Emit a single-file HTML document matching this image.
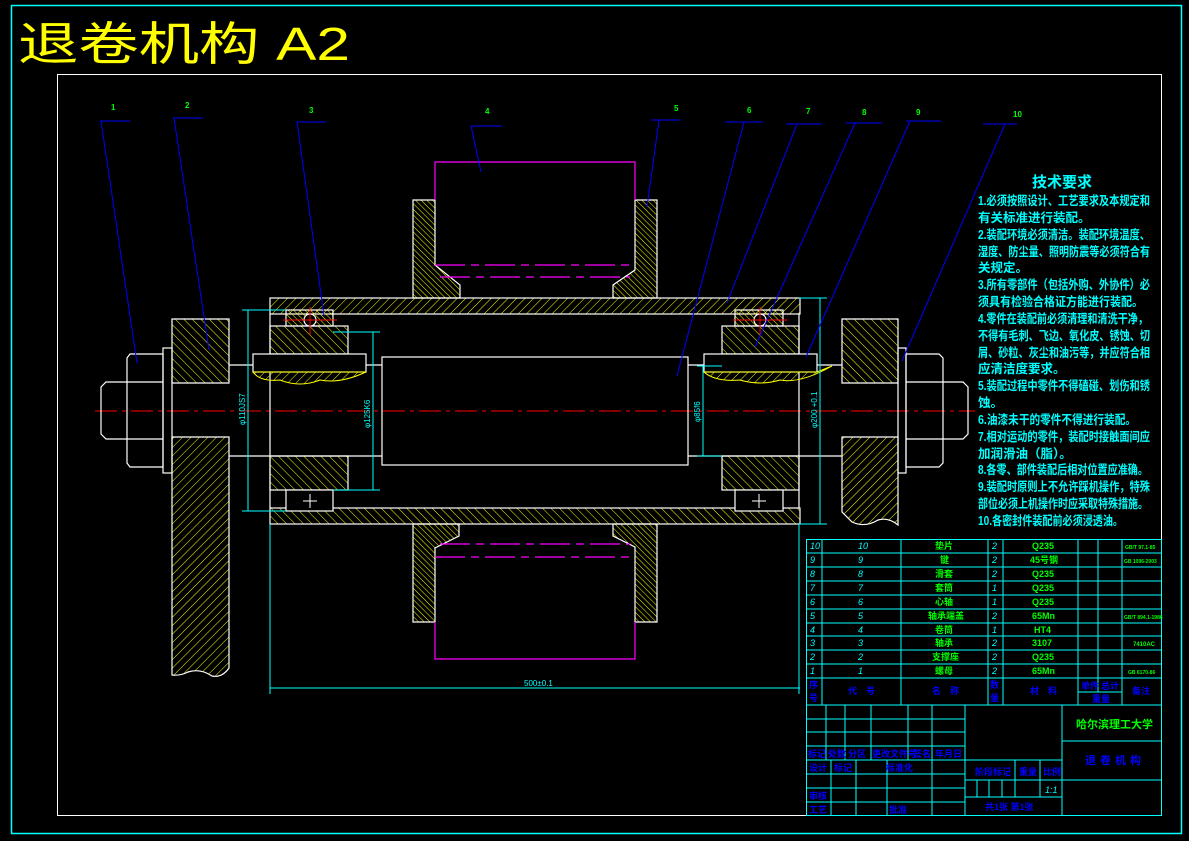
<!DOCTYPE html>
<html><head><meta charset="utf-8"><style>
html,body{margin:0;padding:0;background:#000;}
svg{display:block;}
text{font-family:"Liberation Sans","Noto Sans CJK SC",sans-serif;}
.tr{fill:#00ffff;font-size:12.5px;font-family:"Noto Sans CJK SC","WenQuanYi Zen Hei",sans-serif;font-weight:bold;}
.g{fill:#00ff00;font-size:9px;font-weight:bold;font-family:"Liberation Sans","Noto Sans CJK SC",sans-serif;}
.c{fill:#00ffff;font-size:9px;font-style:italic;}
.b{fill:#0000ff;font-size:9px;font-weight:bold;font-family:"Liberation Sans","Noto Sans CJK SC",sans-serif;}
</style></head><body>
<svg width="1189" height="841" viewBox="0 0 1189 841" xmlns="http://www.w3.org/2000/svg">
<defs>
<pattern id="h1" width="6" height="6" patternUnits="userSpaceOnUse" patternTransform="rotate(45)">
<line x1="0" y1="0" x2="0" y2="6" stroke="#ffff00" stroke-width="1"/></pattern>
<pattern id="h2" width="6" height="6" patternUnits="userSpaceOnUse" patternTransform="rotate(-45)">
<line x1="0" y1="0" x2="0" y2="6" stroke="#ffff00" stroke-width="1"/></pattern>
<pattern id="h3" width="4" height="4" patternUnits="userSpaceOnUse" patternTransform="rotate(-45)">
<line x1="0" y1="0" x2="0" y2="4" stroke="#ffff00" stroke-width="1"/></pattern>
</defs>
<rect width="1189" height="841" fill="#000"/>
<rect x="11.5" y="5.5" width="1170" height="828" fill="none" stroke="#00ffff" stroke-width="1.5"/>
<rect x="57.5" y="74.5" width="1104" height="741" fill="none" stroke="#ffffff" stroke-width="1"/>
<text x="18" y="60" fill="#ffff00" font-size="46" textLength="332" lengthAdjust="spacingAndGlyphs" style="font-family:'Liberation Sans','Noto Sans CJK SC',sans-serif">退卷机构 A2</text>

<line x1="95" y1="411" x2="975" y2="411" stroke="#ff0000" stroke-dasharray="22,5,4,5"/>

<g stroke="#ffffff" stroke-width="1.2">
<path d="M172,319 H229 V383 H172 Z" fill="url(#h2)"/>
<path d="M172,437 H229 V668 Q222,678 212,676 Q200,668 188,672 Q180,676 172,675 Z" fill="url(#h1)"/>
<rect x="163" y="348" width="9" height="125" fill="none"/>
<path d="M130,354 H163 V467 H130 L127,463 V358 Z" fill="none"/>
<line x1="127" y1="382" x2="163" y2="382"/><line x1="127" y1="439" x2="163" y2="439"/>
<path d="M127,382 H106 L101,387 V434 L106,439 H127" fill="none"/>
<path d="M842,319 H898 V383 H842 Z" fill="url(#h2)"/>
<path d="M842,437 H898 V525 Q888,517 878,520 Q865,528 852,522 L842,512 Z" fill="url(#h1)"/>
<rect x="898" y="348" width="8" height="125" fill="none"/>
<path d="M906,354 H939 L943,358 V463 L939,467 H906 Z" fill="none"/>
<line x1="906" y1="382" x2="943" y2="382"/><line x1="906" y1="439" x2="943" y2="439"/>
<path d="M943,382 H963 L968,387 V434 L963,439 H943" fill="none"/>
<line x1="229" y1="365" x2="382" y2="365"/><line x1="229" y1="456" x2="382" y2="456"/>
<line x1="688" y1="365" x2="842" y2="365"/><line x1="688" y1="456" x2="842" y2="456"/>
<rect x="382" y="357" width="306" height="108" fill="none"/>
<rect x="270" y="298" width="530" height="16" fill="url(#h1)"/>
<rect x="270" y="508" width="530" height="16" fill="url(#h2)"/>
<rect x="270" y="326" width="78" height="28" fill="url(#h2)"/>
<rect x="270" y="456" width="78" height="34" fill="url(#h2)"/>
<rect x="286" y="310" width="47" height="16" fill="url(#h3)"/>
<rect x="286" y="490" width="47" height="21" fill="#000"/>
<line x1="270" y1="314" x2="270" y2="508"/>
<rect x="722" y="326" width="77" height="28" fill="url(#h2)"/>
<rect x="722" y="456" width="77" height="34" fill="url(#h2)"/>
<rect x="735" y="310" width="48" height="16" fill="url(#h3)"/>
<rect x="735" y="490" width="48" height="21" fill="#000"/>
<line x1="799" y1="314" x2="799" y2="508"/>
<circle cx="310" cy="320" r="6" fill="#000"/>
<circle cx="760" cy="320" r="6" fill="#000"/>
<rect x="253" y="354" width="113" height="18" fill="#000"/>
<rect x="704" y="354" width="113" height="18" fill="#000"/>
<path d="M413,200 H435 V265 L460,285 V298 H413 Z" fill="url(#h3)"/>
<path d="M635,200 H657 V298 H613 V285 L635,270 Z" fill="url(#h3)"/>
<path d="M413,524 H459 V536 L435,548 V622 H413 Z" fill="url(#h3)"/>
<path d="M613,524 H657 V622 H635 V547 L613,536 Z" fill="url(#h3)"/>
</g>
<path d="M253,372 Q260,382 280,380 Q300,388 320,380 Q340,384 366,372 Z" fill="url(#h1)" stroke="#ffff00"/>
<path d="M704,372 Q715,382 740,380 Q760,386 780,380 Q800,384 832,366 L817,372 Z" fill="url(#h1)" stroke="#ffff00"/>
<g stroke="#ffffff"><line x1="310" y1="494" x2="310" y2="508"/><line x1="303" y1="501" x2="317" y2="501"/>
<line x1="759" y1="494" x2="759" y2="508"/><line x1="752" y1="501" x2="766" y2="501"/></g>
<g stroke="#ff0000"><line x1="283" y1="320" x2="337" y2="320"/><line x1="310" y1="307" x2="310" y2="335"/>
<line x1="733" y1="320" x2="787" y2="320"/><line x1="760" y1="307" x2="760" y2="335"/></g>
<g stroke="#ff00ff" fill="none" stroke-width="1.2">
<path d="M435,200 V162 H635 V200"/>
<line x1="435" y1="265" x2="635" y2="265" stroke-dasharray="30,6,8,6"/>
<line x1="440" y1="277" x2="630" y2="277" stroke-dasharray="30,6,8,6"/>
<path d="M435,622 V659 H635 V622"/>
<line x1="440" y1="544" x2="630" y2="544" stroke-dasharray="30,6,8,6"/>
<line x1="435" y1="557" x2="635" y2="557" stroke-dasharray="30,6,8,6"/>
</g>
<g stroke="#00ffff" fill="none">
<line x1="242" y1="310" x2="286" y2="310"/><line x1="242" y1="511" x2="286" y2="511"/>
<line x1="248" y1="310" x2="248" y2="511"/>
<line x1="333" y1="332" x2="380" y2="332"/><line x1="333" y1="490" x2="380" y2="490"/>
<line x1="373" y1="332" x2="373" y2="490"/>
<line x1="697" y1="366" x2="722" y2="366"/><line x1="697" y1="456" x2="722" y2="456"/>
<line x1="703" y1="366" x2="703" y2="456"/>
<line x1="799" y1="298" x2="827" y2="298"/><line x1="799" y1="524" x2="827" y2="524"/>
<line x1="820" y1="298" x2="820" y2="524"/>
<line x1="270" y1="524" x2="270" y2="694"/><line x1="799" y1="524" x2="799" y2="694"/>
<line x1="270" y1="688" x2="800" y2="688"/>
</g>
<g fill="#00ffff" font-size="8">
<text transform="translate(245,425) rotate(-90)">φ110JS7</text>
<text transform="translate(370,428) rotate(-90)">φ125K6</text>
<text transform="translate(700,422) rotate(-90)">φ85f6</text>
<text transform="translate(817,428) rotate(-90)">φ200 +0.1</text>
<text x="524" y="686">500±0.1</text>
</g>
<g stroke="#0000ff" fill="none">
<path d="M100,121 H130 M101,121 L137,363"/>
<path d="M173,118 H203 M174,118 L209,350"/>
<path d="M297,122 H326 M297,122 L324,316"/>
<path d="M471,126 H502 M471,126 L481,172"/>
<path d="M651,120 H680 M659,120 L647,207"/>
<path d="M725,122 H763 M744,122 L677,376"/>
<path d="M786,124 H822 M797,124 L727,303"/>
<path d="M846,123 H882 M855,123 L755,347"/>
<path d="M906,121 H941 M910,121 L806,357"/>
<path d="M983,124 H1017 M1005,124 L902,361"/>
</g>
<g fill="#00ff00" font-size="8" font-weight="bold">
<text x="111" y="110">1</text><text x="185" y="108">2</text><text x="309" y="113">3</text>
<text x="485" y="114">4</text><text x="674" y="111">5</text><text x="747" y="113">6</text>
<text x="806" y="114">7</text><text x="862" y="115">8</text><text x="916" y="115">9</text>
<text x="1013" y="117">10</text>
</g>
<text x="1032" y="187" class="tr" style="font-size:15px">技术要求</text>
<g class="tr">
<text x="978" y="205" textLength="172" lengthAdjust="spacingAndGlyphs">1.必须按照设计、工艺要求及本规定和</text>
<text x="978" y="222">有关标准进行装配。</text>
<text x="978" y="239" textLength="172" lengthAdjust="spacingAndGlyphs">2.装配环境必须清洁。装配环境温度、</text>
<text x="978" y="256" textLength="172" lengthAdjust="spacingAndGlyphs">湿度、防尘量、照明防震等必须符合有</text>
<text x="978" y="272">关规定。</text>
<text x="978" y="289" textLength="172" lengthAdjust="spacingAndGlyphs">3.所有零部件（包括外购、外协件）必</text>
<text x="978" y="306" textLength="165" lengthAdjust="spacingAndGlyphs">须具有检验合格证方能进行装配。</text>
<text x="978" y="323" textLength="170" lengthAdjust="spacingAndGlyphs">4.零件在装配前必须清理和清洗干净，</text>
<text x="978" y="340" textLength="172" lengthAdjust="spacingAndGlyphs">不得有毛刺、飞边、氧化皮、锈蚀、切</text>
<text x="978" y="357" textLength="172" lengthAdjust="spacingAndGlyphs">屑、砂粒、灰尘和油污等，并应符合相</text>
<text x="978" y="373">应清洁度要求。</text>
<text x="978" y="390" textLength="172" lengthAdjust="spacingAndGlyphs">5.装配过程中零件不得磕碰、划伤和锈</text>
<text x="978" y="407">蚀。</text>
<text x="978" y="424" textLength="158" lengthAdjust="spacingAndGlyphs">6.油漆未干的零件不得进行装配。</text>
<text x="978" y="441" textLength="172" lengthAdjust="spacingAndGlyphs">7.相对运动的零件，装配时接触面间应</text>
<text x="978" y="458">加润滑油（脂）。</text>
<text x="978" y="474" textLength="170" lengthAdjust="spacingAndGlyphs">8.各零、部件装配后相对位置应准确。</text>
<text x="978" y="491" textLength="172" lengthAdjust="spacingAndGlyphs">9.装配时原则上不允许踩机操作，特殊</text>
<text x="978" y="508" textLength="170" lengthAdjust="spacingAndGlyphs">部位必须上机操作时应采取特殊措施。</text>
<text x="978" y="525" textLength="145" lengthAdjust="spacingAndGlyphs">10.各密封件装配前必须浸透油。</text>
</g>
<g stroke="#00ffff" fill="none" stroke-width="1">
<rect x="806.5" y="539.5" width="355" height="276"/>
<path d="M807,553H1161M807,567H1161M807,581H1161M807,595H1161M807,609H1161M807,623H1161M807,636H1161M807,650H1161M807,664H1161M807,678H1161M807,705H1161"/>
<path d="M822,539V705M901,539V705M988,539V705M1003,539V705M1078,539V705M1098,539V692M1122,539V705M1078,692H1122"/>
<path d="M807,719H965M807,732H965M807,746H965M807,760H965M807,774H965M807,788H965M807,802H965"/>
<path d="M826,705V760M845,705V760M871,705V760M908,705V760M932,705V760M965,705V815"/>
<path d="M831,760V815M856,760V815M887,760V815M932,760V815"/>
<path d="M965,780H1062M965,797H1062M1062,705V815M1062,741H1161M1062,780H1161M1015,760V797M1040,760V797M977,780V797M989,780V797M1002,780V797M965,760H1062"/>
</g>
<g class="c">
<text x="810" y="549">10</text><text x="858" y="549">10</text>
<text x="810" y="563">9</text><text x="858" y="563">9</text>
<text x="810" y="577">8</text><text x="858" y="577">8</text>
<text x="810" y="591">7</text><text x="858" y="591">7</text>
<text x="810" y="605">6</text><text x="858" y="605">6</text>
<text x="810" y="619">5</text><text x="858" y="619">5</text>
<text x="810" y="633">4</text><text x="858" y="633">4</text>
<text x="810" y="646">3</text><text x="858" y="646">3</text>
<text x="810" y="660">2</text><text x="858" y="660">2</text>
<text x="810" y="674">1</text><text x="858" y="674">1</text>
<text x="992" y="549">2</text><text x="992" y="563">2</text><text x="992" y="577">2</text><text x="992" y="591">1</text>
<text x="992" y="605">1</text><text x="992" y="619">2</text><text x="992" y="633">1</text><text x="992" y="646">2</text>
<text x="992" y="660">2</text><text x="992" y="674">2</text>
<text x="1045" y="793">1:1</text>
</g>
<g class="g">
<text x="935" y="549">垫片</text><text x="1032" y="549">Q235</text><text x="1125" y="549" font-size="5">GB/T 97.1-85</text>
<text x="940" y="563">键</text><text x="1030" y="563">45号钢</text><text x="1124" y="563" font-size="5">GB 1096-2003</text>
<text x="935" y="577">滑套</text><text x="1032" y="577">Q235</text>
<text x="935" y="591">套筒</text><text x="1032" y="591">Q235</text>
<text x="935" y="605">心轴</text><text x="1032" y="605">Q235</text>
<text x="928" y="619">轴承端盖</text><text x="1032" y="619">65Mn</text><text x="1124" y="619" font-size="5">GB/T 894.1-1986</text>
<text x="935" y="633">卷筒</text><text x="1034" y="633">HT4</text>
<text x="935" y="646">轴承</text><text x="1032" y="646">3107</text><text x="1133" y="646" font-size="6">7410AC</text>
<text x="932" y="660">支撑座</text><text x="1032" y="660">Q235</text>
<text x="935" y="674">螺母</text><text x="1032" y="674">65Mn</text><text x="1128" y="674" font-size="5">GB 6170-86</text>
<text x="1076" y="728" font-size="11">哈尔滨理工大学</text>
</g>
<g class="b">
<text x="809" y="688">序</text><text x="809" y="701">号</text>
<text x="848" y="694">代　号</text><text x="932" y="694">名　称</text>
<text x="990" y="688">数</text><text x="990" y="701">量</text>
<text x="1030" y="694">材　料</text>
<text x="1081" y="689">单件</text><text x="1101" y="689">总计</text><text x="1092" y="702">重量</text>
<text x="1132" y="694">备注</text>
<text x="808" y="757">标记</text><text x="828" y="757">处数</text><text x="848" y="757">分区</text>
<text x="872" y="757">更改文件号</text><text x="913" y="757">签名</text><text x="935" y="757">年月日</text>
<text x="809" y="771">设计</text><text x="834" y="771">标记</text><text x="886" y="771">标准化</text>
<text x="809" y="799">审核</text><text x="809" y="813">工艺</text><text x="889" y="813">批准</text>
<text x="975" y="775">阶段标记</text><text x="1019" y="775">重量</text><text x="1043" y="775">比例</text>
<text x="985" y="810">共1张  第1张</text>
<text x="1085" y="764" font-size="11" letter-spacing="4">退卷机构</text>
</g>
</svg>
</body></html>
